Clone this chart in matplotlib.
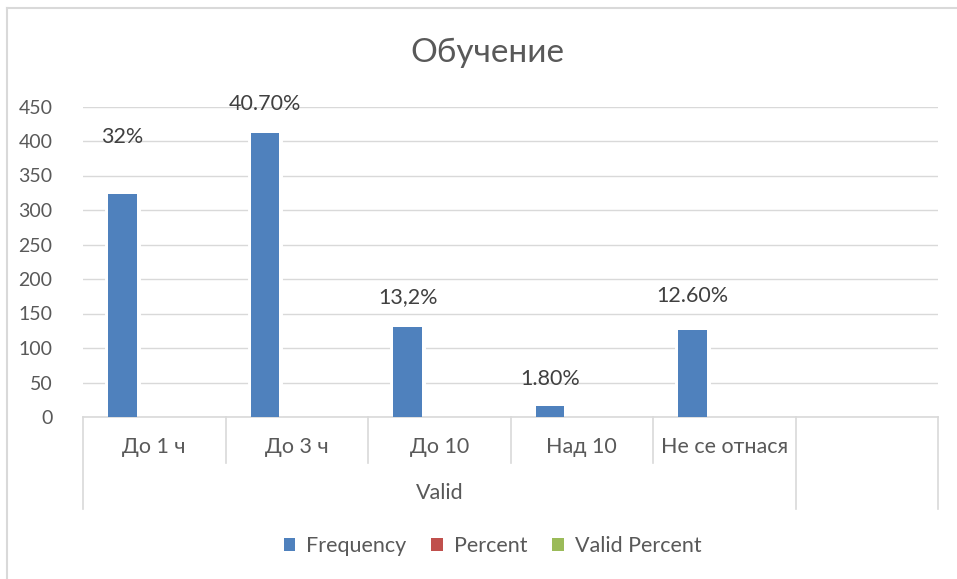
import matplotlib.pyplot as plt
import matplotlib.transforms as mtransforms
from matplotlib.lines import Line2D
from matplotlib.patches import Patch
import numpy as np

plt.rcParams['font.family'] = ['Lato', 'DejaVu Sans']

categories = ["До 1 ч", "До 3 ч", "До 10", "Над 10", "Не се отнася", ""]
group_name = "Valid"
frequency = [323, 411, 130, 16, 126, np.nan]
percent = [0.32, 0.407, 0.132, 0.018, 0.126, np.nan]
valid_percent = [0.32, 0.407, 0.132, 0.018, 0.126, np.nan]
point_labels = ["32%", "40.70%", "13,2%", "1.80%", "12.60%"]
series_names = ["Frequency", "Percent", "Valid Percent"]
series_colors = ["#4f81bd", "#c0504d", "#9bbb59"]

text_color = "#595959"
grid_color = "#d9d9d9"
fs = 15.5

fig = plt.figure(figsize=(9.57, 5.79), dpi=100)
ax = fig.add_axes([83 / 957, 162 / 579, 855 / 957, 310.5 / 579])

x = np.arange(len(categories))
width = 0.2
step = 0.222

# white halo behind the blue bars, like the Excel gaps in the gridlines
ax.bar(x - step, frequency, width, color="white", edgecolor="white",
       linewidth=5, zorder=2)
ax.bar(x - step, frequency, width, color=series_colors[0], zorder=3)
ax.bar(x, percent, width, color=series_colors[1], zorder=3)
ax.bar(x + step, valid_percent, width, color=series_colors[2], zorder=3)

ax.set_xlim(-0.5, len(categories) - 0.5)
ax.set_ylim(0, 450)
ax.set_yticks(range(0, 451, 50))
ax.tick_params(axis="y", length=0, pad=22, labelsize=14, labelcolor=text_color)
ax.set_xticks([])
ax.yaxis.grid(True, color=grid_color, linewidth=1)
ax.set_axisbelow(True)
for side in ["left", "right", "top"]:
    ax.spines[side].set_visible(False)
ax.spines["bottom"].set_color(grid_color)
ax.spines["bottom"].set_linewidth(1.2)

# data labels
label_lift = [57, 29, 30, 27, 34]
for i, txt in enumerate(point_labels):
    ax.annotate(txt, (x[i] - step, frequency[i]),
                xytext=(0, label_lift[i]), textcoords="offset pixels",
                ha="center", va="center", fontsize=fs, color="#404040",
                annotation_clip=False, zorder=4)

# multi-level category axis
trans = mtransforms.blended_transform_factory(ax.transData, ax.transAxes)
ax_h = 310.5
for i, cat in enumerate(categories):
    ax.text(x[i], -30 / ax_h, cat, transform=trans, ha="center", va="center",
            fontsize=fs, color=text_color)
n_valid = 5
ax.text((n_valid - 1) / 2, -76 / ax_h, group_name, transform=trans,
        ha="center", va="center", fontsize=fs, color=text_color)

for b in np.arange(len(categories) + 1) - 0.5:
    outer = b in (-0.5, n_valid - 0.5, len(categories) - 0.5)
    bottom = -92 / ax_h if outer else -46 / ax_h
    ax.add_line(Line2D([b, b], [0, bottom], transform=trans, color=grid_color,
                       linewidth=1.2, clip_on=False))

fig.text(487 / 957, 1 - 53 / 579, "Обучение", fontsize=24, color=text_color,
         ha="center", va="center")

handles = [Patch(facecolor=c, edgecolor="none") for c in series_colors]
fig.legend(handles, series_names, loc="center", ncol=3,
           bbox_to_anchor=(492.5 / 957, 1 - 546 / 579), frameon=False,
           fontsize=fs, labelcolor=text_color, handlelength=0.55,
           handleheight=0.55, handletextpad=0.5, columnspacing=1.15)

# chart area border (top and left visible)
fig.add_artist(Line2D([7 / 957, 1], [1 - 8 / 579, 1 - 8 / 579],
                      transform=fig.transFigure, color=grid_color, linewidth=1.5))
fig.add_artist(Line2D([7 / 957, 7 / 957], [0, 1 - 8 / 579],
                      transform=fig.transFigure, color=grid_color, linewidth=1.5))

fig.savefig("out.png", dpi=100, facecolor="white")
